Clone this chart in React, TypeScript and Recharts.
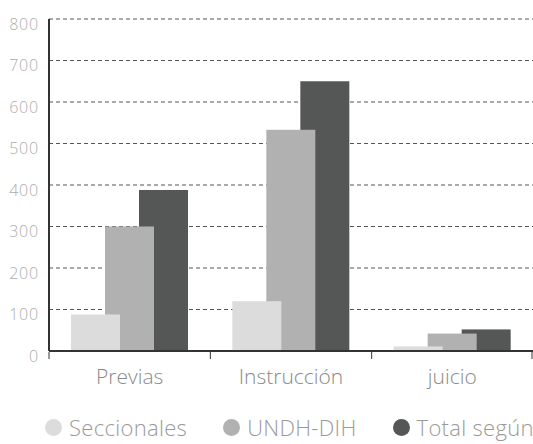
import React from "react";
import { BarChart, Bar, XAxis, YAxis, CartesianGrid } from "recharts";

const categories = ["Previas", "Instrucción", "juicio"];
const seccionales = [88, 120, 11];
const undhDih = [300, 533, 42];
const totalSegun = [388, 650, 52];
const yTicks = [0, 100, 200, 300, 400, 500, 600, 700, 800];

const seriesNames = ["Seccionales", "UNDH-DIH", "Total según"];
const seriesColors = ["#dcdcdc", "#b1b1b1", "#545756"];

const data = categories.map((name, i) => ({
  name,
  seccionales: seccionales[i],
  undhDih: undhDih[i],
  totalSegun: totalSegun[i],
}));

const FONT = "'Open Sans', Lato, sans-serif";
const BAR_SIZE = 49;
const BAR_GAP = -15;

// bars overlap, and the left one sits on top: render them right-to-left and
// swap their slots inside the band so paint order matches the picture
const mirroredShape = (slot: number) => (props: any) => {
  const { x, y, width, height, fill } = props;
  if (!height || height <= 0) return <g />;
  const shift = (2 - 2 * slot) * (width + BAR_GAP);
  return <rect x={x + shift} y={y} width={width} height={height} fill={fill} />;
};

function CategoryTick(props: any) {
  const { x, y, payload, index, width, visibleTicksCount } = props;
  const band = width / (visibleTicksCount || categories.length);
  const half = band / 2;
  return (
    <g>
      <line x1={x - half} y1={y - 8} x2={x - half} y2={y - 1} stroke="#333" strokeWidth={1} />
      {index === categories.length - 1 && (
        <line x1={x + half - 1} y1={y - 8} x2={x + half - 1} y2={y - 1} stroke="#333" strokeWidth={1} />
      )}
      <text
        x={x}
        y={y + 24}
        textAnchor="middle"
        fill="#8a8a8a"
        fontSize={21}
        fontFamily={FONT}
        fontWeight={300}
      >
        {payload.value}
      </text>
    </g>
  );
}

function LegendRow() {
  return (
    <div
      style={{
        position: "absolute",
        left: 45,
        top: 416,
        display: "flex",
        fontFamily: FONT,
        fontWeight: 300,
        fontSize: 22,
        letterSpacing: 0.3,
        color: "#9a9a9a",
        whiteSpace: "nowrap",
        lineHeight: "22px",
      }}
    >
      {seriesNames.map((n, i) => (
        <div key={n} style={{ display: "flex", alignItems: "center", marginRight: 36 }}>
          <span
            style={{
              display: "inline-block",
              width: 17,
              height: 17,
              borderRadius: 9,
              background: seriesColors[i],
              marginRight: 7,
            }}
          />
          {n}
        </div>
      ))}
    </div>
  );
}

export default function App() {
  return (
    <div style={{ position: "absolute", left: 0, top: 0, width: 533, height: 444, background: "#fff" }}>
      <BarChart
        width={533}
        height={444}
        data={data}
        margin={{ top: 19, right: 0, bottom: 0, left: 0 }}
        barSize={BAR_SIZE}
        barGap={BAR_GAP}
      >
        <CartesianGrid vertical={false} stroke="#555" strokeDasharray="4 3" />
        <YAxis
          width={49}
          domain={[0, 800]}
          ticks={yTicks}
          interval={0}
          tickLine={false}
          tickSize={0}
          tickMargin={10}
          axisLine={{ stroke: "#333", strokeWidth: 2 }}
          tick={{ fill: "#adadad", fontSize: 16, fontFamily: FONT, fontWeight: 300, dy: 5, letterSpacing: 0.8 }}
        />
        <XAxis
          dataKey="name"
          height={93}
          tickLine={false}
          tickSize={7}
          axisLine={{ stroke: "#333", strokeWidth: 2 }}
          tick={<CategoryTick />}
          interval={0}
        />
        <Bar dataKey="totalSegun" fill={seriesColors[2]} isAnimationActive={false} shape={mirroredShape(0)} />
        <Bar dataKey="undhDih" fill={seriesColors[1]} isAnimationActive={false} shape={mirroredShape(1)} />
        <Bar dataKey="seccionales" fill={seriesColors[0]} isAnimationActive={false} shape={mirroredShape(2)} />
      </BarChart>
      <LegendRow />
    </div>
  );
}
